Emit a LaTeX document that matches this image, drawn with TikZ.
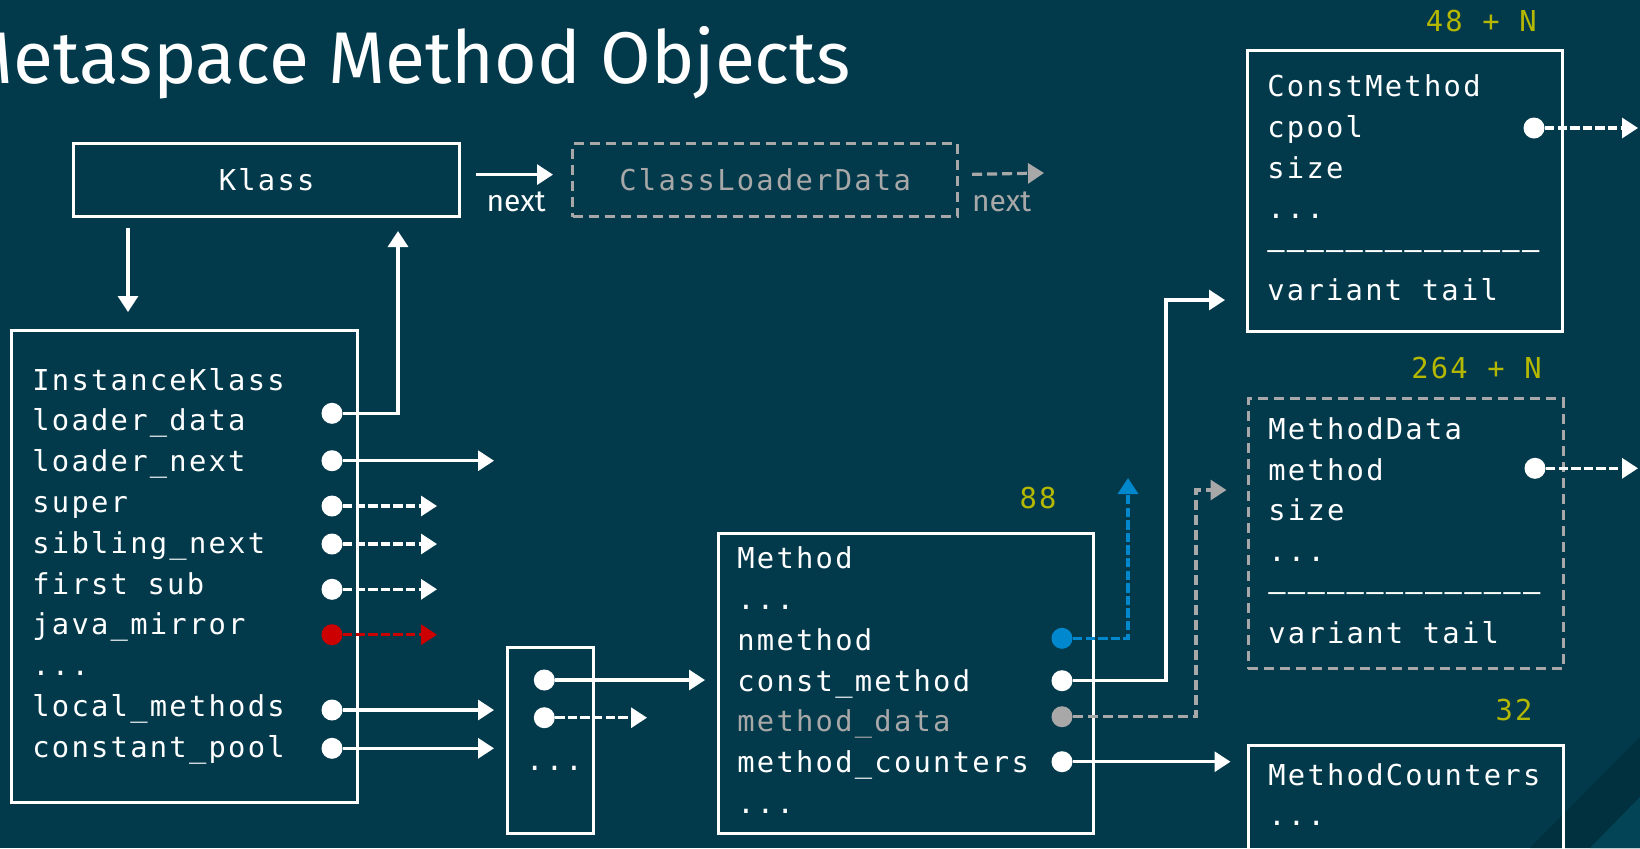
\documentclass[tikz,border=0pt]{standalone}
\usepackage{fontspec}
\setsansfont{Fira Sans}
\setmonofont[LetterSpace=7.8]{DejaVu Sans Mono}
\usetikzlibrary{arrows.meta}
\definecolor{bgteal}{RGB}{2,58,76}
\definecolor{bgdark}{RGB}{1,49,63}
\definecolor{bglight}{RGB}{3,68,86}
\definecolor{ghost}{RGB}{168,168,168}
\definecolor{nblue}{RGB}{0,136,206}
\definecolor{mred}{RGB}{204,0,0}
\definecolor{olive}{RGB}{181,184,0}

\begin{document}
\begin{tikzpicture}[x=0.5pt,y=-0.5pt,
    every node/.style={inner sep=0pt,text=white,font=\ttfamily\fontsize{14.4}{17}\selectfont},
    box/.style={draw=white,line width=1.6pt,anchor=north west},
    ghostbox/.style={draw=ghost,line width=1.6pt,dash pattern=on 5pt off 3pt,anchor=north west},
    fld/.style={anchor=base west},
    sz/.style={anchor=base east,text=olive},
    pt/.style={circle,fill=white,minimum size=10.5pt},
    link/.style={draw=white,line width=1.6pt,-{Triangle[length=8pt,width=10pt]}},
    weak/.style={link,dash pattern=on 4.7pt off 1.6pt},
    lbl/.style={font=\sffamily\fontsize{15}{17}\selectfont}]
% background and page
\fill[bgteal] (0,0) rectangle (1640,848);
\fill[bgdark] (1530,848) -- (1640,737) -- (1640,848) -- cycle;
\fill[bglight] (1590,848) -- (1640,797) -- (1640,848) -- cycle;
\useasboundingbox (0,0) rectangle (1640,848);
\node[font=\sffamily\fontsize{36.6}{41}\selectfont,anchor=base east] (title) at (851,83.5) {Metaspace Method Objects};

% Klass and its loader
\node[box,minimum width=193pt,minimum height=36.5pt] (k) at (72,142) {Klass};
\node[ghostbox,text=ghost,minimum width=192.5pt,minimum height=36.5pt] (cld) at (571,142) {ClassLoaderData};
\draw[link,shorten <=7.5pt,shorten >=9pt] ([yshift=2.75pt]k.east) -- ([yshift=2.75pt]cld.west)
     node[lbl,midway,anchor=north,yshift=-8pt] (nx1) {next};
\coordinate (cnx) at (1044,173);
\draw[weak,draw=ghost,dash pattern=on 5pt off 2.5pt,shorten <=6.5pt] ([yshift=2.75pt]cld.east) -- (cnx)
     node[lbl,text=ghost,midway,anchor=north,yshift=-8pt] (nx2) {next};

% InstanceKlass
\node[box,minimum width=173pt,minimum height=236pt] (ik) at (10,329) {};
\node[fld] (ikn) at (32,390) {InstanceKlass};
\node[fld] (ikld) at (32,430.8) {loader\_data};
\node[fld] (ikln) at (32,471.6) {loader\_next};
\node[fld] (iksu) at (32,512.4) {super};
\node[fld] (iksn) at (32,553.2) {sibling\_next};
\node[fld] (ikfs) at (32,594) {first sub};
\node[fld] (ikjm) at (32,634.8) {java\_mirror};
\node[fld] (ikdd) at (32,675.6) {...};
\node[fld] (iklm) at (32,716.4) {local\_methods};
\node[fld] (ikcp) at (32,757.2) {constant\_pool};
\node[pt] (pld) at (332,413.3) {};
\node[pt] (pln) at (332,460.7) {};
\node[pt] (psu) at (332,506) {};
\node[pt] (psn) at (332,544) {};
\node[pt] (pfs) at (332,589.3) {};
\node[pt,fill=mred] (pjm) at (332,634.7) {};
\node[pt] (plm) at (332,710) {};
\node[pt] (pcp) at (332,748.3) {};
\coordinate (kdn) at (128,228);
\draw[link,shorten >=8.5pt] (kdn) -- (kdn |- ik.north);
\coordinate (kup) at (398,231);
\draw[link] (pld) -| (kup);
\coordinate (lnx) at (494,460.7);
\draw[link] (pln) -- (lnx);
\coordinate (sux) at (437,506);
\draw[weak] (psu) -- (sux);
\coordinate (snx) at (437,544);
\draw[weak] (psn) -- (snx);
\coordinate (fsx) at (437,589.3);
\draw[weak] (pfs) -- (fsx);
\coordinate (jmx) at (437,634.7);
\draw[weak,draw=mred] (pjm) -- (jmx);

% methods array
\node[box,minimum width=43pt,minimum height=93pt] (mt) at (506,646) {};
\node[pt] (pm0) at (544.3,680) {};
\node[pt] (pm1) at (544.3,717.7) {};
\node[anchor=base] (mtdd) at (554.5,770) {...};
\draw[link,shorten >=6pt] (plm) -- (plm -| mt.west);
\draw[link,shorten >=6pt] (pcp) -- (pcp -| mt.west);
\coordinate (m1x) at (647,717.7);
\draw[weak] (pm1) -- (m1x);

% Method
\node[box,minimum width=187.5pt,minimum height=150pt] (m) at (717,532) {};
\node[sz] (msz) at (1057,508.3) {88};
\node[fld] (mn) at (737,568) {Method};
\node[fld] (mdd0) at (737,609) {...};
\node[fld] (mnm) at (737,650) {nmethod};
\node[fld] (mcm) at (737,691) {const\_method};
\node[fld,text=ghost] (mmd) at (737,731.5) {method\_data};
\node[fld] (mmc) at (737,772.5) {method\_counters};
\node[fld] (mdd1) at (737,813) {...};
\node[pt,fill=nblue] (pnm) at (1062,638.3) {};
\node[pt] (pcm) at (1062,680.7) {};
\node[pt,fill=ghost] (pmd) at (1062,716.7) {};
\node[pt] (pmc) at (1062,761.7) {};
\draw[link,shorten >=6pt] (pm0) -- (pm0 -| m.west);

% ConstMethod
\node[box,minimum width=157.5pt,minimum height=140.5pt] (cm) at (1246,49) {};
\node[sz] (cmsz) at (1537,31.7) {48 + N};
\node[fld] (cmn) at (1267,96.7) {ConstMethod};
\node[fld] (cmcp) at (1267,137.4) {cpool};
\node[fld] (cmsi) at (1267,178) {size};
\node[fld] (cmdd) at (1267,218.8) {...};
\node[fld] (cmln) at (1267,259.5) {––––––––––––––};
\node[fld] (cmvt) at (1267,300.2) {variant tail};
\node[pt] (pcc) at (1534,128) {};
\coordinate (ccx) at (1638,128);
\draw[weak] (pcc) -- (ccx);

% MethodData
\node[ghostbox,minimum width=157.5pt,minimum height=135pt] (md) at (1246.5,397) {};
\node[sz] (mdsz) at (1542,378.3) {264 + N};
\node[fld] (mdn) at (1268,439.3) {MethodData};
\node[fld] (mdme) at (1268,480) {method};
\node[fld] (mdsi) at (1268,520.9) {size};
\node[fld] (mddd) at (1268,561.7) {...};
\node[fld] (mdln) at (1268,601) {––––––––––––––};
\node[fld] (mdvt) at (1268,643.3) {variant tail};
\node[pt] (pmm) at (1535,468.3) {};
\coordinate (mmx) at (1638,468.3);
\draw[weak] (pmm) -- (mmx);

% MethodCounters
\node[box,minimum width=157.5pt,minimum height=63pt] (mc) at (1246.5,744) {};
\node[sz] (mcsz) at (1533,720) {32};
\node[fld] (mcn) at (1268,785) {MethodCounters};
\node[fld] (mcdd) at (1268,825) {...};

% pointers out of Method
\coordinate (nmx) at (1128,478);
\draw[weak,draw=nblue] (pnm) -| (nmx);
\coordinate (cmb) at (1166,300);
\draw[link,shorten >=10.5pt] (pcm) -| (cmb) -- (cmb -| cm.west);
\coordinate (mdb) at (1196,490);
\draw[weak,draw=ghost,dash pattern=on 5pt off 2.5pt,shorten >=10pt] (pmd) -| (mdb) -- (mdb -| md.west);
\draw[link,shorten >=8pt] (pmc) -- (pmc -| mc.west);
\end{tikzpicture}
\end{document}
